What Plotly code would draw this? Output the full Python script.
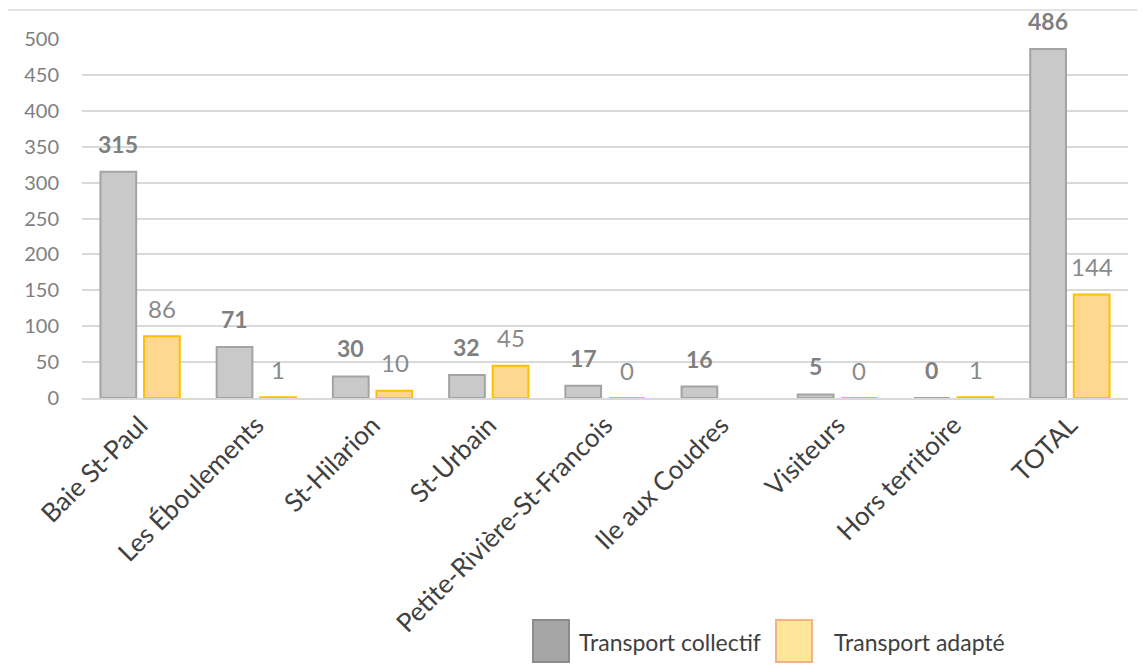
import plotly.graph_objects as go

categories = ["Baie St-Paul", "Les Éboulements", "St-Hilarion", "St-Urbain",
              "Petite-Rivière-St-Francois", "Ile aux Coudres", "Visiteurs",
              "Hors territoire", "TOTAL"]
collectif = [315, 71, 30, 32, 17, 16, 5, 0, 486]
adapte = [86, 1, 10, 45, 0, None, 0, 1, 144]
y_ticks = [0, 50, 100, 150, 200, 250, 300, 350, 400, 450, 500]

FONT = "Lato, 'Open Sans', sans-serif"
OFF = 8  # page body margin
FW, FH = 1145 - OFF, 666 - OFF

fig = go.Figure()
fig.add_trace(go.Bar(x=categories, y=collectif, name="Transport collectif",
                     marker=dict(color="#c9c9c9", line=dict(color="#a3a3a3", width=2)),
                     showlegend=False))
fig.add_trace(go.Bar(x=categories, y=adapte, name="Transport adapté",
                     marker=dict(color="#fed88f", line=dict(color="#ffc000", width=2)),
                     showlegend=False))

annotations = []
for c, v in zip(categories, collectif):
    if v is None:
        continue
    annotations.append(dict(x=c, y=v, xref="x", yref="y", text=f"<b>{v}</b>",
                             showarrow=False, xshift=-22, yshift=28,
                             font=dict(family=FONT, size=23, color="#7f7f7f")))
for c, v in zip(categories, adapte):
    if v is None:
        continue
    annotations.append(dict(x=c, y=v, xref="x", yref="y", text=str(v),
                             showarrow=False, xshift=22, yshift=28,
                             font=dict(family=FONT, size=24, color="#8a8a8a")))

# page-pixel geometry of the plot area
L, T, W, H = 82, 39, 1046, 359
def px(x):
    return (x - L) / W
def py(y):
    return (T + H - y) / H

legend_items = [("Transport collectif", "#a6a6a6", "#8c8c8c", 533, 577),
                ("Transport adapté", "#ffe699", "#f4b183", 776, 832)]
shapes = []
for name, fill, line, sx, tx in legend_items:
    shapes.append(dict(type="rect", xref="paper", yref="paper",
                       x0=px(sx), x1=px(sx + 36), y0=py(662), y1=py(620),
                       fillcolor=fill, line=dict(color=line, width=2)))
    annotations.append(dict(x=px(tx), y=py(642), xref="paper", yref="paper",
                            text=name, showarrow=False, xanchor="left", yanchor="middle",
                            font=dict(family=FONT, size=23, color="#404040")))
# chart border (left and top)
shapes.append(dict(type="line", xref="paper", yref="paper", x0=px(6), x1=px(6),
                   y0=py(10), y1=py(700), line=dict(color="#d9d9d9", width=1.5)))
shapes.append(dict(type="line", xref="paper", yref="paper", x0=px(6), x1=px(1160),
                   y0=py(10), y1=py(10), line=dict(color="#d9d9d9", width=1.5)))

fig.update_layout(
    width=FW, height=FH,
    margin=dict(l=L - OFF, r=FW - (L - OFF) - W, t=T - OFF, b=FH - (T - OFF) - H),
    paper_bgcolor="white", plot_bgcolor="white",
    barmode="group", bargap=0.25, bargroupgap=0.18,
    font=dict(family=FONT),
    annotations=annotations, shapes=shapes,
    xaxis=dict(tickangle=-45, tickfont=dict(family=FONT, size=26, color="#404040"),
               showgrid=False, showline=True, linecolor="#d9d9d9", linewidth=1.5,
               ticks=""),
    yaxis=dict(range=[0, 500], tickvals=y_ticks, showgrid=True, gridcolor="#d9d9d9",
               gridwidth=1.5, zeroline=False, ticks="", ticklabelstandoff=22,
               tickfont=dict(family=FONT, size=20, color="#7f7f7f")),
)
fig.write_html("out.html")
